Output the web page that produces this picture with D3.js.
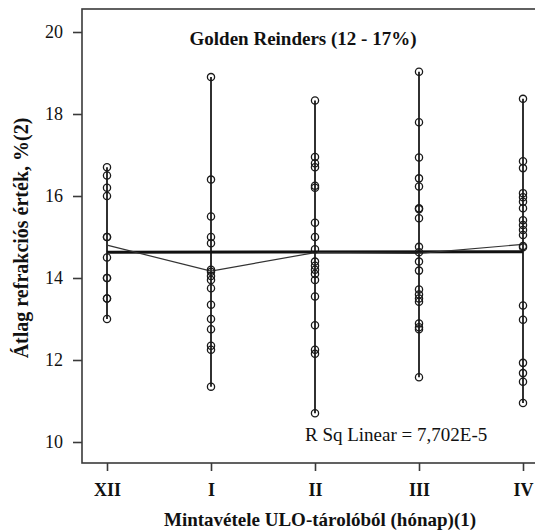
<!DOCTYPE html>
<html>
<head>
<meta charset="utf-8">
<script src="https://cdn.jsdelivr.net/npm/d3@7"></script>
<style>
html,body{margin:0;padding:0;background:#fff;}
svg{display:block;}
svg text{font-family:"Liberation Serif","Times New Roman",Times,"DejaVu Serif",serif;fill:#111;}
</style>
</head>
<body>
<svg id="chart" width="535" height="530"></svg>
<script>
// ---- data ----
const months = ["XII", "I", "II", "III", "IV"];
const valsXII = [16.7, 16.5, 16.2, 16.0, 15.0, 15.0, 14.5, 14.0, 14.0, 13.5, 13.5, 13.0];
const valsI   = [18.9, 16.4, 15.5, 15.0, 14.85, 14.2, 14.15, 14.05, 13.95, 13.75, 13.35, 13.0, 12.75, 12.35, 12.25, 11.35];
const valsII  = [18.33, 16.95, 16.8, 16.7, 16.25, 16.2, 15.35, 15.0, 14.7, 14.4, 14.3, 14.2, 14.1, 13.95, 13.55, 12.85, 12.25, 12.15, 10.7];
const valsIII = [19.03, 17.8, 16.94, 16.43, 16.23, 15.7, 15.68, 15.46, 14.76, 14.63, 14.4, 14.18, 13.72, 13.6, 13.5, 13.42, 12.89, 12.8, 12.75, 11.58];
const valsIV  = [18.37, 16.85, 16.68, 16.07, 15.97, 15.86, 15.7, 15.41, 15.29, 15.17, 15.05, 14.78, 14.75, 13.33, 12.98, 11.93, 11.68, 11.47, 10.95];
const groupMeans = [14.8, 14.17, 14.62, 14.6, 14.82];
const fitLine = [14.63, 14.64];      // linear fit at XII and at IV
const yTicks = [10, 12, 14, 16, 18, 20];
const titleText = "Golden Reinders (12 - 17%)";
const rsqText = "R Sq Linear = 7,702E-5";
const xTitle = "Mintavétele ULO-tárolóból (hónap)(1)";
const yTitle = "Átlag refrakciós érték, %(2)";

const groups = [valsXII, valsI, valsII, valsIII, valsIV];

// ---- layout ----
const svg = d3.select("#chart");
const frame = {left: 82, top: 9, right: 536, bottom: 463};
const x = d3.scaleLinear().domain([0, months.length - 1]).range([107, 523]);
const y = d3.scaleLinear().domain([10, 20]).range([442, 32]);
const ink = "#1a1a1a";

// frame
svg.append("rect")
  .attr("x", frame.left).attr("y", frame.top)
  .attr("width", frame.right - frame.left).attr("height", frame.bottom - frame.top)
  .attr("fill", "none").attr("stroke", "#3a3a3a").attr("stroke-width", 1.6);

// y axis
const yAxis = d3.axisLeft(y).tickValues(yTicks).tickSize(9).tickPadding(10).tickFormat(d3.format("d"));
const gy = svg.append("g").attr("transform", `translate(${frame.left},0)`).call(yAxis);
gy.attr("font-family", null);
gy.select(".domain").remove();
gy.selectAll(".tick line").attr("stroke", "#3a3a3a").attr("stroke-width", 1.6);
gy.selectAll(".tick text").attr("font-size", 18).attr("fill", "#111");

// x axis
const xAxis = d3.axisBottom(x).tickValues(d3.range(months.length)).tickSize(8).tickPadding(12)
  .tickFormat(i => months[i]);
const gx = svg.append("g").attr("transform", `translate(0,${frame.bottom})`).call(xAxis);
gx.attr("font-family", null);
gx.select(".domain").remove();
gx.selectAll(".tick line").attr("stroke", "#3a3a3a").attr("stroke-width", 1.6);
gx.selectAll(".tick text").attr("font-size", 18).attr("font-weight", "bold").attr("fill", "#111");

// vertical range lines for each group
svg.append("g").selectAll("line").data(groups).join("line")
  .attr("x1", (d, i) => x(i)).attr("x2", (d, i) => x(i))
  .attr("y1", d => y(d3.max(d))).attr("y2", d => y(d3.min(d)))
  .attr("stroke", ink).attr("stroke-width", 1.8);

// linear fit line (thick)
svg.append("line")
  .attr("x1", x(0)).attr("x2", x(months.length - 1))
  .attr("y1", y(fitLine[0])).attr("y2", y(fitLine[1]))
  .attr("stroke", "#111").attr("stroke-width", 3);

// group means line (thin)
svg.append("path")
  .datum(groupMeans)
  .attr("d", d3.line().x((d, i) => x(i)).y(d => y(d)))
  .attr("fill", "none").attr("stroke", "#333").attr("stroke-width", 1.2);

// points
const pts = [];
groups.forEach((g, i) => g.forEach(v => pts.push({i, v})));
svg.append("g").selectAll("circle").data(pts).join("circle")
  .attr("cx", d => x(d.i)).attr("cy", d => y(d.v)).attr("r", 3.6)
  .attr("fill", "none").attr("stroke", ink).attr("stroke-width", 1.3);

// title
svg.append("text").attr("x", 303).attr("y", 45).attr("text-anchor", "middle")
  .attr("font-size", 19).attr("font-weight", "bold").text(titleText);

// R squared annotation
svg.append("text").attr("x", 305).attr("y", 441)
  .attr("font-size", 19).text(rsqText);

// x title
svg.append("text").attr("x", 320).attr("y", 526).attr("text-anchor", "middle")
  .attr("font-size", 19).attr("font-weight", "bold").text(xTitle);

// y title
svg.append("text").attr("transform", `translate(28,238) rotate(-90)`).attr("text-anchor", "middle")
  .attr("font-size", 20).attr("font-weight", "bold").text(yTitle);
</script>
</body>
</html>
